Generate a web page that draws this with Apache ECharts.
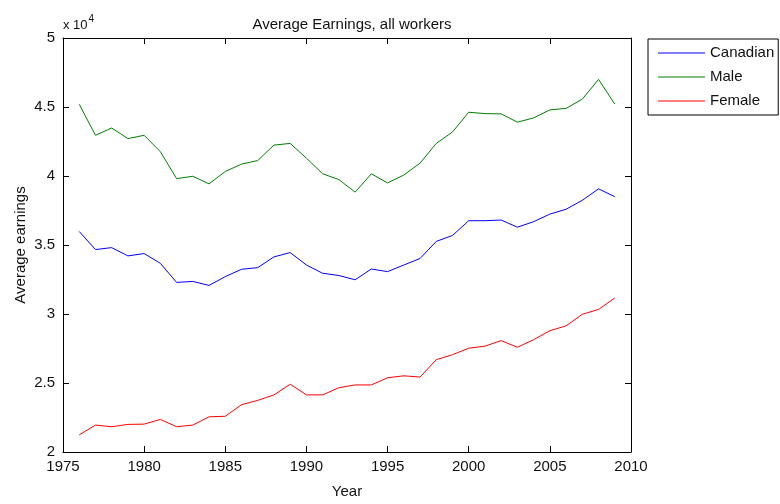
<!DOCTYPE html>
<html>
<head>
<meta charset="utf-8">
<script src="https://cdn.jsdelivr.net/npm/echarts@6/dist/echarts.min.js"></script>
<style>
  html, body { margin: 0; padding: 0; background: #fff; }
  #chart { width: 780px; height: 504px; }
</style>
</head>
<body>
<div id="chart"></div>
<script>
// Average earnings of all workers, 1976-2009 (dollars)
const years = [1976, 1977, 1978, 1979, 1980, 1981, 1982, 1983, 1984, 1985,
               1986, 1987, 1988, 1989, 1990, 1991, 1992, 1993, 1994, 1995,
               1996, 1997, 1998, 1999, 2000, 2001, 2002, 2003, 2004, 2005,
               2006, 2007, 2008, 2009];

const canadian = [35980, 34670, 34810, 34210, 34380, 33670, 32290, 32360, 32070, 32710,
                  33240, 33360, 34140, 34450, 33550, 32950, 32790, 32480, 33260, 33070,
                  33550, 34020, 35260, 35690, 36760, 36760, 36810, 36290, 36690, 37240,
                  37590, 38240, 39070, 38500];

const male = [45200, 42950, 43480, 42710, 42950, 41760, 39810, 39980, 39430, 40330,
              40860, 41120, 42240, 42360, 41290, 40160, 39740, 38830, 40160, 39500,
              40070, 40930, 42360, 43190, 44620, 44520, 44500, 43900, 44210, 44790,
              44900, 45570, 47000, 45210];

const female = [21240, 21950, 21830, 22000, 22020, 22360, 21830, 21950, 22550, 22590,
                23430, 23740, 24140, 24910, 24140, 24140, 24660, 24860, 24860, 25380,
                25520, 25430, 26690, 27050, 27520, 27670, 28070, 27590, 28140, 28790,
                29140, 29980, 30330, 31160];

const seriesNames = ['Canadian', 'Male', 'Female'];
const seriesColors = ['#0000ff', '#008000', '#ff0000'];

const FONT = "'Liberation Sans', Arial, Helvetica, sans-serif";
const INK = '#111';

function pairs(values) {
  return years.map((y, i) => [y, values[i]]);
}

const chart = echarts.init(document.getElementById('chart'), null, { renderer: 'canvas' });

const axisLine = { show: true, onZero: false, lineStyle: { color: '#000', width: 1 } };
const tick = { show: true, inside: true, length: 6, lineStyle: { color: '#000', width: 1 } };

chart.setOption({
  animation: false,
  backgroundColor: '#fff',
  textStyle: { fontFamily: FONT, color: INK },
  title: {
    text: 'Average Earnings, all workers',
    left: 347,
    top: 12,
    textAlign: 'center',
    textStyle: { fontFamily: FONT, fontSize: 15, fontWeight: 'normal', color: INK }
  },
  legend: {
    data: seriesNames,
    orient: 'vertical',
    left: 648,
    top: 39,
    padding: [5, 4, 5, 10],
    itemGap: 6,
    itemWidth: 47,
    itemHeight: 1,
    icon: 'rect',
    borderColor: '#000',
    borderWidth: 1,
    backgroundColor: '#fff',
    textStyle: { fontFamily: FONT, fontSize: 15, color: INK, lineHeight: 18 }
  },
  grid: { left: 63, right: 149, top: 38, bottom: 46, containLabel: false },
  xAxis: [
    {
      type: 'value', min: 1975, max: 2010, interval: 5,
      name: 'Year', nameLocation: 'middle', nameGap: 32,
      nameTextStyle: { fontFamily: FONT, fontSize: 15, color: INK },
      axisLine: axisLine, axisTick: tick, splitLine: { show: false },
      axisLabel: { margin: 7, fontFamily: FONT, fontSize: 15, color: INK,
                   formatter: v => String(v) }
    },
    {
      type: 'value', min: 1975, max: 2010, interval: 5, position: 'top',
      axisLine: axisLine, axisTick: tick, splitLine: { show: false },
      axisLabel: { show: false }
    }
  ],
  yAxis: [
    {
      type: 'value', min: 20000, max: 50000, interval: 5000,
      name: 'Average earnings', nameLocation: 'middle', nameGap: 35,
      nameMoveOverlap: false,
      nameTextStyle: { fontFamily: FONT, fontSize: 15, color: INK },
      axisLine: axisLine, axisTick: tick, splitLine: { show: false },
      axisLabel: {
        margin: 8, fontFamily: FONT, fontSize: 15, color: INK,
        padding: [0, 0, 4, 0],
        formatter: v => String(v / 10000)
      }
    },
    {
      type: 'value', min: 20000, max: 50000, interval: 5000, position: 'right',
      axisLine: axisLine, axisTick: tick, splitLine: { show: false },
      axisLabel: { show: false }
    }
  ],
  graphic: [
    {
      type: 'text',
      left: 63,
      top: 14,
      style: {
        text: '{b|x 10}{s|4}',
        rich: {
          b: { fontFamily: FONT, fontSize: 13, fill: INK, verticalAlign: 'bottom', lineHeight: 18 },
          s: { fontFamily: FONT, fontSize: 10, fill: INK, verticalAlign: 'top', padding: [0, 0, 6, 1] }
        }
      }
    }
  ],
  series: [
    { name: seriesNames[0], type: 'line', data: pairs(canadian), symbol: 'none',
      lineStyle: { color: seriesColors[0], width: 1 }, itemStyle: { color: seriesColors[0] } },
    { name: seriesNames[1], type: 'line', data: pairs(male), symbol: 'none',
      lineStyle: { color: seriesColors[1], width: 1 }, itemStyle: { color: seriesColors[1] } },
    { name: seriesNames[2], type: 'line', data: pairs(female), symbol: 'none',
      lineStyle: { color: seriesColors[2], width: 1 }, itemStyle: { color: seriesColors[2] } }
  ]
});
</script>
</body>
</html>
